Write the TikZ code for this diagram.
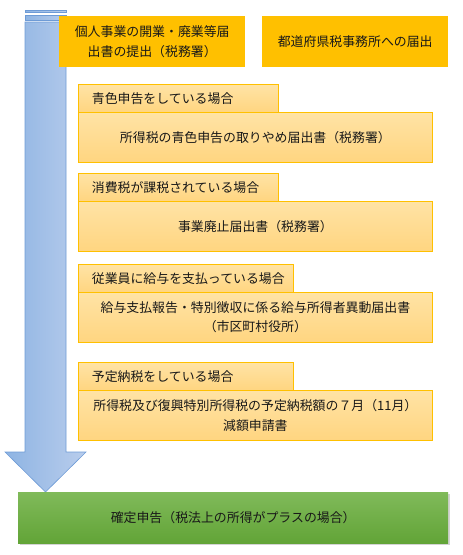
\documentclass[tikz,border=0pt]{standalone}
\usepackage{fontspec}
\setmainfont{Noto Sans CJK JP}
\usetikzlibrary{shadows}
\definecolor{gold}{RGB}{255,192,0}
\definecolor{boxtop}{RGB}{255,227,165}
\definecolor{boxbot}{RGB}{255,213,128}
\definecolor{txt}{RGB}{25,25,25}
\definecolor{arrL}{RGB}{142,180,227}
\definecolor{arrR}{RGB}{185,205,236}
\definecolor{arrB}{RGB}{110,155,214}
\definecolor{grnT}{RGB}{128,186,90}
\definecolor{grnB}{RGB}{98,164,55}
\tikzset{
  base/.style={font=\fontsize{12.9}{19.5}\selectfont, text=txt, inner sep=0pt, align=center},
  topbox/.style={base, fill=gold, minimum width=186pt, minimum height=51pt, anchor=north west},
  tabbox/.style={base, draw=gold, line width=0.8pt, top color=boxtop, bottom color=boxbot, minimum height=28pt, anchor=north west, align=left},
  contentbox/.style={base, draw=gold, line width=0.8pt, top color=boxtop, bottom color=boxbot, minimum width=354pt, minimum height=50pt, anchor=north west},
  greenbox/.style={base, top color=grnT, bottom color=grnB, minimum width=430pt, minimum height=51pt, anchor=north west, drop shadow={shadow xshift=1.5pt, shadow yshift=-1.5pt, opacity=0.35}},
  arrowfill/.style={left color=arrL, right color=arrR, draw=arrB, line width=0.6pt}
}
\begin{document}
\begin{tikzpicture}[x=1pt,y=-1pt]
\useasboundingbox (0,0) rectangle (463,555);
% big arrow
\draw[arrowfill] (25,10) rectangle (66,12.5);
\draw[arrowfill] (25,15) rectangle (66,20);
\draw[arrowfill] (25,22) -- (66,22) -- (66,452) -- (86,452) -- (45.5,492) -- (5,452) -- (25,452) -- cycle;
% top boxes
\node[topbox] (b1) at (59,16) {個人事業の開業・廃業等届\\出書の提出（税務署）};
\node[topbox] (b2) at (262,16) {都道府県税事務所への届出};
% group 1
\node[tabbox, minimum width=200pt, text width=191pt] (t1) at (78,84) {\hspace*{9pt}青色申告をしている場合};
\node[contentbox] (c1) at (78,112) {所得税の青色申告の取りやめ届出書（税務署）};
% group 2
\node[tabbox, minimum width=200pt, text width=191pt] (t2) at (78,173) {\hspace*{9pt}消費税が課税されている場合};
\node[contentbox] (c2) at (78,201) {事業廃止届出書（税務署）};
% group 3
\node[tabbox, minimum width=215pt, text width=206pt] (t3) at (78,264) {\hspace*{9pt}従業員に給与を支払っている場合};
\node[contentbox] (c3) at (78,292) {給与支払報告・特別徴収に係る給与所得者異動届出書\\（市区町村役所）};
% group 4
\node[tabbox, minimum width=215pt, text width=206pt] (t4) at (78,362) {\hspace*{9pt}予定納税をしている場合};
\node[contentbox] (c4) at (78,390) {所得税及び復興特別所得税の予定納税額の７月（11月）\\減額申請書};
% result
\node[greenbox] (g) at (18,492) {確定申告（税法上の所得がプラスの場合）};
\end{tikzpicture}
\end{document}
